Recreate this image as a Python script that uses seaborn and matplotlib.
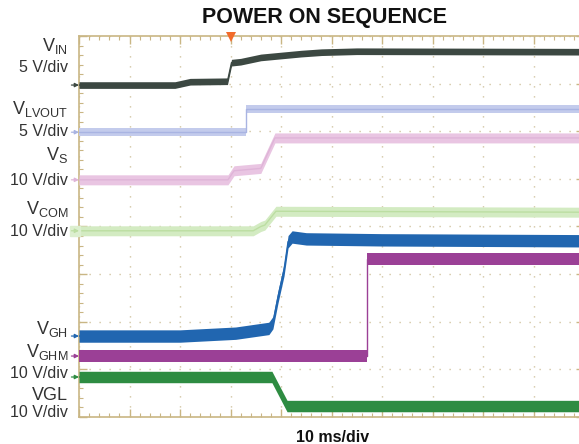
import matplotlib
matplotlib.use("Agg")
import numpy as np
import pandas as pd
import matplotlib.pyplot as plt
import seaborn as sns
from matplotlib.ticker import MultipleLocator

sns.set_theme(style="white")
plt.rcParams['font.family'] = ['Liberation Sans', 'DejaVu Sans']
plt.rcParams['mathtext.fontset'] = 'custom'
plt.rcParams['mathtext.rm'] = 'Liberation Sans'
plt.rcParams['mathtext.it'] = 'Liberation Sans'

# ---- data: time in ms (10 ms/div), level in screen divisions ----
vin_t = [0, 19, 22, 29.4, 30.2, 32, 36, 40, 44, 48, 55, 100]
vin_v = [6.97, 6.97, 7.04, 7.05, 7.44, 7.46, 7.55, 7.59, 7.63, 7.66, 7.68, 7.67]

vlvout_t = [0, 33.1, 33.1, 100]
vlvout_v = [5.98, 5.98, 6.47, 6.47]

vs_t = [0, 29.5, 30.7, 36.0, 38.8, 100]
vs_v = [4.98, 4.98, 5.17, 5.22, 5.86, 5.86]

vcom_t = [0, 34.5, 36.0, 36.8, 39.0, 100]
vcom_v = [3.91, 3.91, 4.00, 4.03, 4.32, 4.30]

vgh_t = [0, 20, 31, 37.6, 38.4, 39.4, 40.6, 41.4, 42.2, 45, 60, 100]
vgh_v = [1.70, 1.70, 1.76, 1.86, 1.98, 2.52, 3.09, 3.68, 3.78, 3.74, 3.72, 3.70]

vghm_t = [0, 57.0, 57.0, 100]
vghm_v = [1.28, 1.28, 3.32, 3.32]

vgl_t = [0, 38.2, 41.2, 100]
vgl_v = [0.84, 0.84, 0.23, 0.23]

trigger_ms = 30

traces = [
    # t, v, band color, line color, half band (div)
    (vin_t, vin_v, '#3c4842', '#3c4842', 0.07),
    (vlvout_t, vlvout_v, '#c3cbec', '#a9b4e2', 0.085),
    (vs_t, vs_v, '#e9c5e2', '#dfb4d8', 0.105),
    (vcom_t, vcom_v, '#d3ebc2', '#bcdea2', 0.105),
    (vgh_t, vgh_v, '#2166b0', '#2166b0', 0.13),
    (vghm_t, vghm_v, '#9b4096', '#9b4096', 0.13),
    (vgl_t, vgl_v, '#2e8c42', '#2e8c42', 0.12),
]

W, H = 579, 444
fig = plt.figure(figsize=(W / 100, H / 100), dpi=100)
ax = fig.add_axes([79 / W, 1 - 417 / H, 505 / W, 381 / H])
ax.set_xlim(0, 100)
ax.set_ylim(0, 8)

tan = '#c9b684'
ax.xaxis.set_major_locator(MultipleLocator(10))
ax.xaxis.set_minor_locator(MultipleLocator(2))
ax.yaxis.set_major_locator(MultipleLocator(1))
ax.yaxis.set_minor_locator(MultipleLocator(0.2))
ax.grid(True, which='major', color='#cdbf98', linestyle=(0, (0.9, 6.3)), linewidth=1.0)
ax.tick_params(which='both', direction='in', colors=tan, top=True, right=True,
               bottom=True, left=True, labelbottom=False, labelleft=False)
ax.tick_params(which='major', length=6, width=1.0)
ax.tick_params(which='minor', length=3, width=0.8)
for s in ax.spines.values():
    s.set_color(tan)
    s.set_linewidth(1.2)

for t, v, band, line, h in traces:
    t = np.asarray(t, float)
    v = np.asarray(v, float)
    ax.fill_between(t, v - h, v + h, color=band, linewidth=0, zorder=3)
    df = pd.DataFrame({'t': t, 'v': v})
    sns.lineplot(data=df, x='t', y='v', estimator=None, sort=False, color=line,
                 linewidth=1.0, ax=ax, zorder=4)
    y0 = v[0]
    if band == '#d3ebc2':
        ax.plot([-0.75], [y0], marker='s', ms=7, color='#dcefcf', clip_on=False, zorder=5)
    ax.annotate('', xy=(0, y0), xytext=(-1.5, y0),
                arrowprops=dict(arrowstyle='-|>', color=line,
                                lw=0.9, mutation_scale=6, shrinkA=0, shrinkB=0),
                annotation_clip=False, zorder=6)

ax.plot([trigger_ms], [7.97], marker='v', ms=7, color='#f26b2a', clip_on=False, zorder=7,
        markeredgewidth=0)
ax.set_xlabel('')
ax.set_ylabel('')

fig.text(325 / W, 1 - 18 / H, 'POWER ON SEQUENCE', ha='center', va='center',
         fontsize=15.5, fontweight='bold', color='#111111')
fig.text(333 / W, 1 - 437 / H, '10 ms/div', ha='center', va='center',
         fontsize=11.5, fontweight='bold', color='#111111')

labels = [
    (r'$\mathregular{V_{IN}}$', 51, 13),
    ('5 V/div', 72, 11.5),
    (r'$\mathregular{V_{LVOUT}}$', 114, 13),
    ('5 V/div', 136, 11.5),
    (r'$\mathregular{V_{S}}$', 160, 13),
    ('10 V/div', 185, 11.5),
    (r'$\mathregular{V_{COM}}$', 214, 13),
    ('10 V/div', 236, 11.5),
    (r'$\mathregular{V_{GH}}$', 334, 13),
    (r'$\mathregular{V_{GHM}}$', 357, 13),
    ('10 V/div', 378, 11.5),
    ('VGL', 400, 13),
    ('10 V/div', 417, 11.5),
]
for txt, base, fs in labels:
    fig.text(68 / W, 1 - base / H, txt, ha='right', va='baseline', fontsize=fs,
             color='#333333')

fig.savefig('out.png', dpi=100)
